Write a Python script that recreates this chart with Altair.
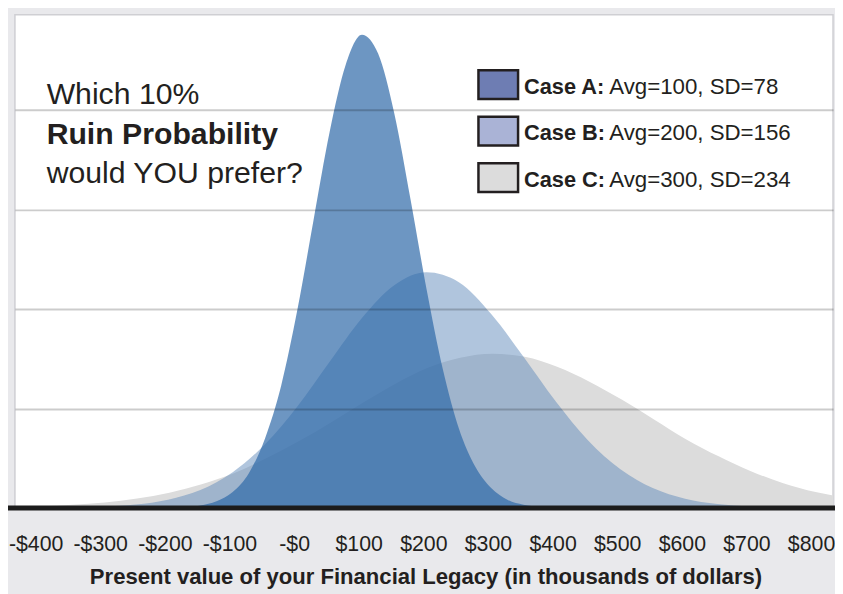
import altair as alt
import pandas as pd

# ---- data (height in grid units; gridlines at 1,2,3,4) ----
a_x = [-170, -145, -120, -95, -70, -45, -20, 5, 30, 55, 80, 105, 130, 155, 180,
       205, 230, 255, 280, 305, 330, 355, 380, 405]
a_y = [0.008, 0.025, 0.067, 0.16, 0.35, 0.70, 1.23, 1.99, 2.89, 3.78, 4.46, 4.76,
       4.57, 3.97, 3.11, 2.20, 1.40, 0.80, 0.42, 0.20, 0.083, 0.032, 0.011, 0.004]

b_x = [-395, -345, -295, -245, -195, -145, -95, -45, 5, 55, 105, 155, 205, 255,
       305, 355, 405, 455, 505, 555, 605, 655, 705, 755, 805]
b_y = [0.001, 0.004, 0.013, 0.035, 0.084, 0.18, 0.36, 0.64, 1.02, 1.47, 1.91, 2.24,
       2.37, 2.27, 1.95, 1.52, 1.07, 0.68, 0.39, 0.20, 0.093, 0.039, 0.015, 0.005, 0.002]

c_x = [-432, -393, -343, -293, -243, -193, -143, -93, -43, 7, 57, 107, 157, 207,
       257, 307, 357, 407, 457, 507, 557, 607, 657, 707, 757, 807, 834]
c_y = [0.014, 0.017, 0.032, 0.056, 0.095, 0.154, 0.24, 0.35, 0.50, 0.67, 0.86, 1.06,
       1.25, 1.41, 1.51, 1.55, 1.52, 1.42, 1.27, 1.09, 0.89, 0.69, 0.52, 0.37, 0.25,
       0.16, 0.125]

tick_values = [-400, -300, -200, -100, 0, 100, 200, 300, 400, 500, 600, 700, 800]

case_names = ["Case A:", "Case B:", "Case C:"]
case_stats = ["Avg=100, SD=78", "Avg=200, SD=156", "Avg=300, SD=234"]
swatch_colors = ["#6e7db3", "#aab3d6", "#dcdcdc"]

title_lines = ["Which 10%", "Ruin Probability", "would YOU prefer?"]
x_title = "Present value of your Financial Legacy (in thousands of dollars)"

FONT = "Liberation Sans, Arial, sans-serif"
TXT = "#231f20"

xscale = alt.Scale(domain=[-432, 834], nice=False, zero=False)
yscale = alt.Scale(domain=[0, 4.96], nice=False)

x_axis = alt.Axis(values=tick_values, grid=False, ticks=False, tickSize=0, domain=False,
                  labelExpr="datum.value < 0 ? '-$' + abs(datum.value) : (datum.value == 0 ? '-$0' : '$' + datum.value)",
                  labelFont=FONT, labelFontSize=21.5, labelColor=TXT,
                  labelBaseline="alphabetic", labelPadding=43, title=None,
                  labelOverlap=False, labelFlush=False)
y_axis = alt.Axis(values=[1, 2, 3, 4], grid=True, gridColor="#000000", gridOpacity=0.2,
                  gridWidth=2, labels=False, ticks=False, domain=False, title=None, zindex=1)


def area(xs, ys, color, opacity):
    df = pd.DataFrame({"x": xs, "y": ys})
    return alt.Chart(df).mark_area(interpolate="monotone", color=color, opacity=opacity).encode(
        x=alt.X("x:Q", scale=xscale, axis=x_axis),
        y=alt.Y("y:Q", scale=yscale, axis=y_axis),
    )


layers = [
    area(c_x, c_y, "#dcdcdc", 1.0),
    area(b_x, b_y, "#628bbc", 0.5),
    area(a_x, a_y, "#2f6aa8", 0.7),
]

# baseline
layers.append(
    alt.Chart(pd.DataFrame({"y": [0]})).mark_rule(color="#1c1c1c", strokeWidth=5).encode(
        y=alt.Y("y:Q", scale=yscale, axis=y_axis),
        x=alt.value(-7), x2=alt.value(828)
    )
)

# title block
for i, line in enumerate(title_lines):
    layers.append(
        alt.Chart(pd.DataFrame({"t": [line]})).mark_text(
            align="left", baseline="alphabetic", font=FONT, fontSize=30.5,
            fontWeight="bold" if i == 1 else "normal", color=TXT
        ).encode(text="t:N", x=alt.value(32), y=alt.value(90 + 40 * i))
    )

# legend
for i, (nm, st, col) in enumerate(zip(case_names, case_stats, swatch_colors)):
    top = 56 + 47 * i
    layers.append(
        alt.Chart(pd.DataFrame({"c": [nm]})).mark_rect(fill=col, stroke=TXT, strokeWidth=2.5).encode(
            x=alt.value(468), x2=alt.value(508), y=alt.value(top), y2=alt.value(top + 29)
        )
    )
    layers.append(
        alt.Chart(pd.DataFrame({"t": [nm]})).mark_text(
            align="left", baseline="alphabetic", font=FONT, fontSize=22,
            fontWeight="bold", color=TXT
        ).encode(text="t:N", x=alt.value(514), y=alt.value(top + 23.5))
    )
    layers.append(
        alt.Chart(pd.DataFrame({"t": [st]})).mark_text(
            align="left", baseline="alphabetic", font=FONT, fontSize=22.5, color=TXT
        ).encode(text="t:N", x=alt.value(600), y=alt.value(top + 23.5))
    )

# x axis title
layers.append(
    alt.Chart(pd.DataFrame({"t": [x_title]})).mark_text(
        align="center", baseline="alphabetic", font=FONT,
        fontSize=22.3, fontWeight="bold", color=TXT
    ).encode(text="t:N", x=alt.value(415), y=alt.value(575))
)

chart = alt.layer(*layers).properties(
    width=826, height=498,
    autosize=alt.AutoSizeParams(type="none"),
    padding={"left": 7, "top": 4, "right": 2, "bottom": 84},
    background="#e9e9ec",
).configure_view(fill="#ffffff", stroke="#cfcfd3", strokeWidth=1.5)

chart.save("out.html", embed_options={"renderer": "svg", "actions": False})
